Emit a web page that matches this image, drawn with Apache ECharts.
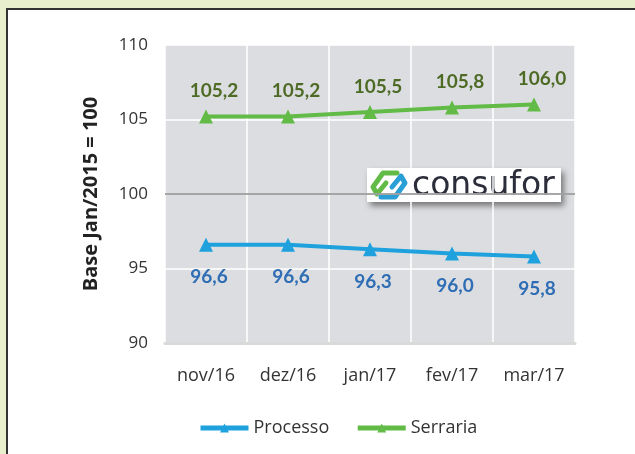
<!DOCTYPE html>
<html>
<head>
<meta charset="utf-8">
<script src="https://cdn.jsdelivr.net/npm/echarts@6/dist/echarts.min.js"></script>
<style>
  html, body { margin: 0; padding: 0; background: #e8efcd; }
  #chart { width: 635px; height: 454px; }
</style>
</head>
<body>
<div id="chart"></div>
<script>
// dados
var categories = ["nov/16", "dez/16", "jan/17", "fev/17", "mar/17"];
var processo = [96.6, 96.6, 96.3, 96.0, 95.8];
var serraria = [105.2, 105.2, 105.5, 105.8, 106.0];
var yTicks = { min: 90, max: 110, interval: 5 };

var blue = "#1ea1dc";
var green = "#62bb46";

function fmt(v) {
  return v.toFixed(1).replace(".", ",");
}

var chart = echarts.init(document.getElementById("chart"));

var opts = {
  backgroundColor: "#e8efcd",
  animation: false,
  textStyle: { fontFamily: "Open Sans" },
  graphic: [
    // painel branco com borda
    {
      type: "rect",
      z: -10,
      shape: { x: 7, y: 9, width: 640, height: 460 },
      style: { fill: "#ffffff", stroke: "#333", lineWidth: 2 }
    },
    // logo consufor
    {
      type: "group",
      left: 367,
      top: 168,
      z: 100,
      children: [
        {
          type: "rect",
          shape: { x: 0, y: 0, width: 194, height: 34 },
          style: {
            fill: "#fff",
            shadowBlur: 6,
            shadowOffsetX: 3,
            shadowOffsetY: 4,
            shadowColor: "rgba(0,0,0,0.45)"
          }
        },
        {
          type: "polyline",
          shape: { points: [[30, 5], [16, 5], [6, 19], [10, 26], [19, 15]] },
          style: { stroke: green, lineWidth: 5, fill: null, lineJoin: "round", lineCap: "round" }
        },
        {
          type: "polyline",
          shape: { points: [[14, 29], [28, 29], [38, 15], [34, 8], [25, 19]] },
          style: { stroke: "#2a9fd6", lineWidth: 5, fill: null, lineJoin: "round", lineCap: "round" }
        },
        {
          type: "text",
          style: {
            x: 45,
            y: 18,
            text: "consufor",
            fill: "#2b2d3a",
            font: "33px 'DejaVu Sans'",
            verticalAlign: "middle"
          }
        }
      ]
    }
  ],
  grid: {
    left: 165,
    top: 45,
    width: 410,
    height: 298,
    show: true,
    backgroundColor: "#dcdde0",
    borderWidth: 0
  },
  legend: {
    bottom: 12,
    left: 193,
    itemWidth: 48,
    itemHeight: 11,
    itemGap: 26,
    itemStyle: {},
    lineStyle: { width: 5 },
    textStyle: { fontSize: 18, color: "#333" },
    data: ["Processo", "Serraria"]
  },
  xAxis: {
    type: "category",
    data: categories,
    boundaryGap: true,
    axisTick: { show: false },
    axisLine: { lineStyle: { color: "#d9d9d9", width: 3 } },
    splitLine: { show: true, lineStyle: { color: "#ffffff", width: 1.5 } },
    axisLabel: { fontSize: 18, color: "#333", margin: 24 }
  },
  yAxis: {
    type: "value",
    min: yTicks.min,
    max: yTicks.max,
    interval: yTicks.interval,
    name: "Base Jan/2015 = 100",
    nameLocation: "middle",
    nameGap: 64,
    nameTextStyle: { fontSize: 20, fontWeight: "bold", color: "#222" },
    axisLine: { show: false },
    axisTick: { show: false },
    splitLine: { lineStyle: { color: "#ffffff", width: 1.5 } },
    axisLabel: { fontSize: 17, color: "#333", margin: 17 }
  },
  series: [
    {
      name: "Processo",
      type: "line",
      data: processo,
      color: blue,
      symbol: "triangle",
      symbolSize: 14,
      lineStyle: { width: 4, color: blue },
      itemStyle: { color: blue },
      label: {
        show: true,
        position: "bottom",
        distance: 16,
        offset: [3, 0],
        fontSize: 19,
        fontWeight: "bold",
        fontFamily: "Lato",
        color: "#2f6db5",
        formatter: function (p) { return fmt(p.value); }
      },
      markLine: {
        silent: true,
        symbol: "none",
        label: { show: false },
        lineStyle: { color: "#8a8a8a", width: 1.5, type: "solid" },
        data: [{ yAxis: 100 }]
      },
      z: 3
    },
    {
      name: "Serraria",
      type: "line",
      data: serraria,
      color: green,
      symbol: "triangle",
      symbolSize: 14,
      lineStyle: { width: 4, color: green },
      itemStyle: { color: green },
      label: {
        show: true,
        position: "top",
        distance: 9,
        offset: [8, 0],
        fontSize: 19,
        fontWeight: "bold",
        fontFamily: "Lato",
        color: "#4e6b26",
        formatter: function (p) { return fmt(p.value); }
      },
      z: 3
    }
  ]
};

chart.setOption(opts);
</script>
</body>
</html>
